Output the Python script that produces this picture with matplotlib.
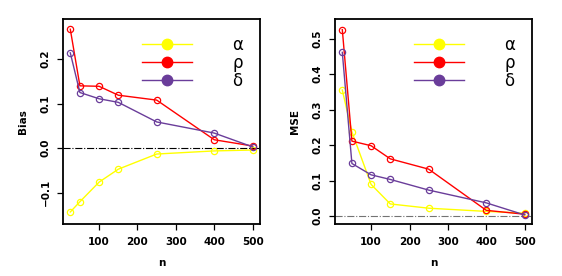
import numpy as np
import matplotlib.pyplot as plt

# sample sizes
n = [25, 50, 100, 150, 250, 400, 500]

# bias estimates
bias_alpha = [-0.143, -0.120, -0.076, -0.047, -0.013, -0.006, -0.004]
bias_rho = [0.267, 0.140, 0.139, 0.119, 0.108, 0.019, 0.005]
bias_delta = [0.214, 0.125, 0.111, 0.103, 0.059, 0.034, 0.003]

# mean squared error
mse_alpha = [0.355, 0.237, 0.089, 0.034, 0.022, 0.013, 0.008]
mse_rho = [0.525, 0.211, 0.198, 0.161, 0.132, 0.016, 0.005]
mse_delta = [0.461, 0.148, 0.116, 0.103, 0.073, 0.037, 0.003]

labels = ['α', 'ρ', 'δ']
colors = ['#ffff00', '#ff0000', '#6a3d9a']

fig = plt.figure(figsize=(5.62, 2.76), dpi=100)
ax1 = fig.add_axes([0.1121, 0.1884, 0.3505, 0.7428])
ax2 = fig.add_axes([0.5961, 0.1884, 0.3505, 0.7428])


def panel(ax, series, ylabel, yticks, ylim, refcolor):
    for ys, c, lab in zip(series, colors, labels):
        ax.plot(n, ys, color=c, lw=1.0, marker='o', ms=4.5, mfc='none',
                mec=c, mew=0.9, zorder=3)
    # proxies for the legend (filled dots)
    handles = [plt.Line2D([], [], color=c, lw=1.0, marker='o', ms=7.5, mfc=c, mec=c)
               for c in colors]
    ax.axhline(0, color=refcolor, lw=0.8, ls='-.', zorder=1)
    ax.set_xlim(6, 519)
    ax.set_ylim(*ylim)
    ax.set_xticks([100, 200, 300, 400, 500])
    ax.set_yticks(yticks)
    ax.set_yticklabels([f'{t:.1f}'.replace('-', '\u2212') for t in yticks],
                       rotation=90, va='center')
    ax.tick_params(labelsize=7.5, length=4, width=0.9, direction='out', pad=5)
    for lab in ax.get_xticklabels() + ax.get_yticklabels():
        lab.set_fontweight('bold')
    for s in ax.spines.values():
        s.set_linewidth(1.3)
    ax.set_xlabel('n', fontsize=7.5, fontweight='bold', labelpad=8)
    ax.set_ylabel(ylabel, fontsize=7.5, fontweight='bold', labelpad=9)
    ax.legend(handles, labels, loc='upper right', frameon=False,
              fontsize=12, handlelength=3.0, handletextpad=2.4,
              labelspacing=0.0, borderaxespad=0.6)


panel(ax1, [bias_alpha, bias_rho, bias_delta], 'Bias',
      [-0.1, 0.0, 0.1, 0.2], (-0.17, 0.29), 'black')
panel(ax2, [mse_alpha, mse_rho, mse_delta], 'MSE',
      [0.0, 0.1, 0.2, 0.3, 0.4, 0.5], (-0.0225, 0.555), '0.45')

fig.savefig('out.png', dpi=100)
